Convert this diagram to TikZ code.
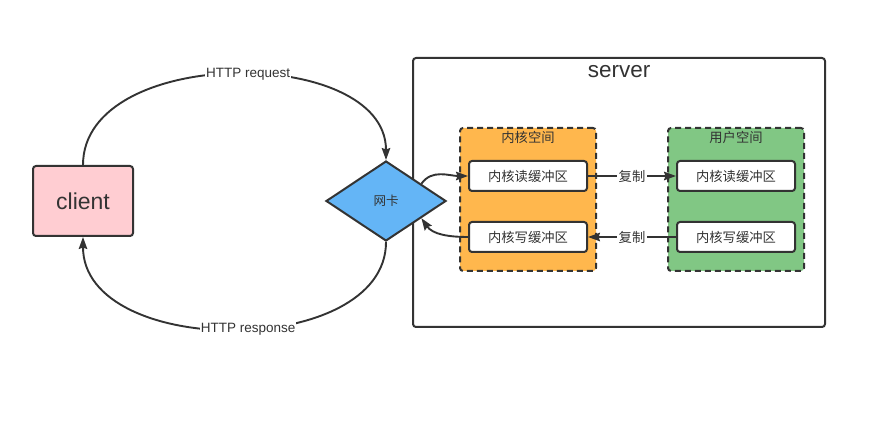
\documentclass[tikz,border=0pt]{standalone}
\usepackage{fontspec}
\setmainfont{Liberation Sans}
\newfontfamily\cjk{Noto Sans CJK SC}
\usetikzlibrary{arrows.meta,calc,shapes.geometric}
\definecolor{ink}{HTML}{333333}
\definecolor{clientfill}{HTML}{FFCDD2}
\definecolor{nicfill}{HTML}{64B5F6}
\definecolor{kfill}{HTML}{FFB74D}
\definecolor{ufill}{HTML}{81C784}
\begin{document}
\begin{tikzpicture}[x=1pt,y=-1pt,
  every node/.style={text=ink},
  conn/.style={draw=ink,line width=1.9pt,-{Stealth[length=12pt,width=8.5pt,inset=1.5pt]}},
  buf/.style={draw=ink,line width=2pt,fill=white,rounded corners=3pt,minimum width=118pt,minimum height=30pt,inner sep=0pt,font=\cjk\fontsize{13.3}{15}\selectfont},
  space/.style={draw=ink,line width=2pt,dash pattern=on 6pt off 4pt,rounded corners=3pt,minimum width=136pt,minimum height=143pt,inner sep=0pt},
  lbl/.style={fill=white,inner sep=1pt,font=\fontsize{13.5}{15}\selectfont},
  cnlbl/.style={fill=white,inner sep=2pt,font=\cjk\fontsize{13.3}{15}\selectfont}]
\useasboundingbox (0,0) rectangle (886,435);
% server
\node[draw=ink,line width=2pt,rounded corners=3pt,minimum width=412pt,minimum height=269pt,inner sep=0pt] (server) at (619,192.5) {};
\node[font=\fontsize{22.5}{26}\selectfont] (servert) at (619,72) {server};
% spaces
\node[space,fill=kfill] (kspace) at (528,199.5) {};
\node[font=\cjk\fontsize{13.3}{15}\selectfont] (kt) at (528,137) {内核空间};
\node[space,fill=ufill] (uspace) at (736,199.5) {};
\node[font=\cjk\fontsize{13.3}{15}\selectfont] (ut) at (736,137) {用户空间};
% buffers
\node[buf] (kr) at (528,176) {内核读缓冲区};
\node[buf] (kw) at (528,237) {内核写缓冲区};
\node[buf] (ur) at (736,176) {内核读缓冲区};
\node[buf] (uw) at (736,237) {内核写缓冲区};
% client
\node[draw=ink,line width=2pt,fill=clientfill,rounded corners=3pt,minimum width=100pt,minimum height=70pt,inner sep=0pt,font=\fontsize{23}{26}\selectfont] (client) at (83,201) {client};
% nic
\node[diamond,draw=ink,line width=2pt,fill=nicfill,minimum width=120pt,minimum height=80pt,inner sep=0pt,aspect=1.5,font=\cjk\fontsize{12.5}{14}\selectfont] (nic) at (386,201) {网卡};
% connectors
\draw[conn] (client.north) .. controls (83,45) and (386,45) .. node[lbl,pos=0.53] {HTTP request} (nic.north);
\draw[conn] (nic.south) .. controls (386,359) and (83,359) .. node[lbl,pos=0.47] {HTTP response} (client.south);
\coordinate (nicin) at ($(nic.north)!0.58!(nic.east)$);
\coordinate (nicout) at ($(nic.east)!0.42!(nic.south)$);
\draw[conn] (nicin) to[out=55,in=180] (kr.west);
\draw[conn] (kw.west) to[out=180,in=-55] (nicout);
\draw[conn] (kr.east) -- node[cnlbl] {复制} (ur.west);
\draw[conn] (uw.west) -- node[cnlbl] {复制} (kw.east);
\end{tikzpicture}
\end{document}
